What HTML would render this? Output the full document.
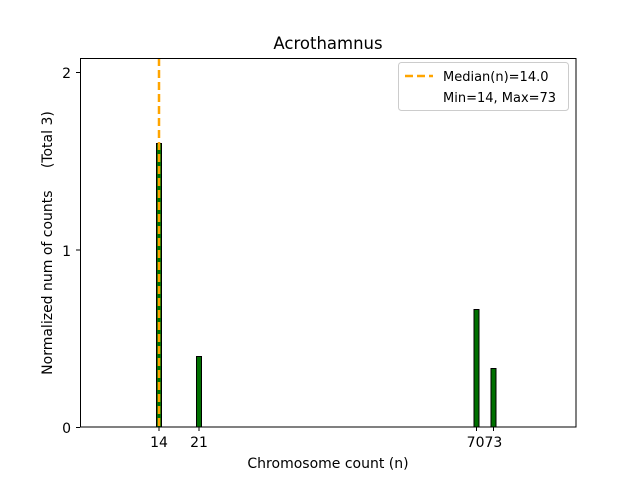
<!DOCTYPE html>
<html><head><style>body{margin:0;background:#fff}</style></head><body>
<svg width="640" height="480" xmlns="http://www.w3.org/2000/svg" font-family="DejaVu Sans, Liberation Sans, sans-serif">
<rect width="640" height="480" fill="#fff"/>
<text x="328" y="49" font-size="16.5" text-anchor="middle">Acrothamnus</text>
<g fill="#007000" stroke="#000" stroke-width="1">
<rect x="156.5" y="143.5" width="5" height="283.5"/>
<rect x="196.5" y="356.5" width="5" height="70.5"/>
<rect x="474" y="309.5" width="5" height="117.5"/>
<rect x="491" y="368.5" width="5" height="58.5"/>
</g>
<line x1="159" y1="58" x2="159" y2="427" stroke="#FFA500" stroke-width="2.5" stroke-dasharray="8,4"/>
<rect x="80.5" y="58.5" width="495.5" height="368.5" fill="none" stroke="#000" stroke-width="1"/>
<g stroke="#000" stroke-width="1">
<line x1="159" y1="427" x2="159" y2="431"/><line x1="199" y1="427" x2="199" y2="431"/>
<line x1="476.5" y1="427" x2="476.5" y2="431"/><line x1="493.5" y1="427" x2="493.5" y2="431"/>
<line x1="76" y1="427.5" x2="80" y2="427.5"/><line x1="76" y1="250" x2="80" y2="250"/><line x1="76" y1="72.5" x2="80" y2="72.5"/>
</g>
<g font-size="14" text-anchor="middle">
<text x="159" y="447">14</text><text x="199" y="447">21</text>
<text x="484.5" y="447">7073</text>
<text x="328" y="468">Chromosome count (n)</text>
</g>
<g font-size="14" text-anchor="end">
<text x="71" y="433">0</text><text x="71" y="256">1</text><text x="71" y="78">2</text>
</g>
<text transform="translate(52,243) rotate(-90)" font-size="14" text-anchor="middle" xml:space="preserve" style="white-space:pre">Normalized num of counts     (Total 3)</text>
<rect x="398.5" y="62.5" width="170" height="48" rx="3" fill="#fff" stroke="#ccc"/>
<line x1="405" y1="76" x2="433" y2="76" stroke="#FFA500" stroke-width="2.5" stroke-dasharray="8,4"/>
<text x="443" y="81" font-size="13">Median(n)=14.0</text>
<text x="443" y="102" font-size="13">Min=14, Max=73</text>
</svg>
</body></html>
